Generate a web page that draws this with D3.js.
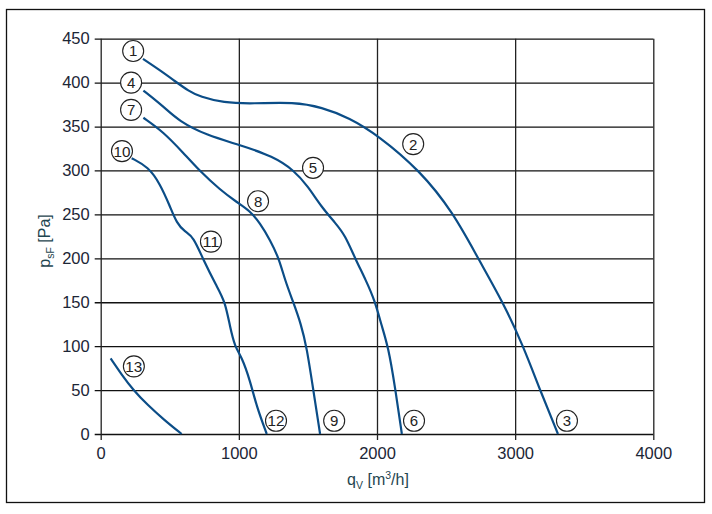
<!DOCTYPE html>
<html>
<head>
<meta charset="utf-8">
<script src="https://cdn.jsdelivr.net/npm/d3@7"></script>
<style>
  body { margin: 0; background: #fff; }
  text { font-family: "Liberation Sans", Arial, sans-serif; }
</style>
</head>
<body>
<svg id="chart" width="712" height="514"></svg>
<script>
// fan curves, q in m3/h, p in Pa
var curve1to3 = [[306,427],[420,415],[526,403],[640,390],[719,384],[887,377],[1100,376],[1400,378],
    [1600,372],[1800,360],[2008,340],[2311,300],[2552,252],[2731,200],[2912,150],[3059,100],[3180,50],[3310,0]];
var curve4to6 = [[309,391],[453,373],[567,356],[767,340],[1008,329],[1249,316],[1400,300],[1500,282],
    [1600,258],[1700,240],[1770,226],[1841,200],[1920,175],[1986,151],[2030,125],[2082,99],[2130,54],[2180,0]];
var curve7to9 = [[309,360],[453,344],[598,320],[719,299],[864,278],[984,264],[1081,254],[1153,240],
    [1226,221],[1290,200],[1334,175],[1394,150],[1450,125],[1491,99],[1539,50],[1588,0]];
var curve10to12 = [[224,314],[345,304],[429,285],[502,259],[550,240],[610,230],[670,225],[743,198],
    [840,168],[900,151],[936,122],[972,99],[1020,88],[1081,61],[1129,31],[1202,0]];
var curve13 = [[72,86],[150,68],[236,50],[340,33],[460,16],[586,0]];

var labelIds = ["1","2","3","4","5","6","7","8","9","10","11","12","13"];
var labelQ = [235,2262,3375,220,1537,2268,220,1139,1690,154,798,1269,240];
var labelP = [436,330,15,400,303,15,369,265,15,322,219,15,77];

var xTicks = [0, 1000, 2000, 3000, 4000];
var yTicks = [0, 50, 100, 150, 200, 250, 300, 350, 400, 450];

var svg = d3.select("#chart");

// outer frame
svg.append("rect")
    .attr("x", 6.5).attr("y", 9.5)
    .attr("width", 698).attr("height", 493)
    .attr("fill", "none").attr("stroke", "#111").attr("stroke-width", 1.3);

var x = d3.scaleLinear().domain([0, 4000]).range([100.7, 653.3]);
var y = d3.scaleLinear().domain([0, 450]).range([434, 38.7]);

var width = x(4000) - x(0);
var height = y(0) - y(450);

var tickColor = "#1c2636";
var titleColor = "#1f4650";

var gy = svg.append("g")
    .attr("transform", "translate(" + x(0) + ",0)")
    .call(d3.axisLeft(y).tickValues(yTicks).tickFormat(d3.format("d")).tickSize(-width).tickPadding(11));
gy.select(".domain").remove();
gy.selectAll(".tick line").attr("x1", -6).attr("stroke", "#111").attr("stroke-width", 1.3);
gy.selectAll(".tick text").attr("font-size", 16.5).attr("fill", tickColor)
    .attr("font-family", "Liberation Sans, Arial, sans-serif");

var gx = svg.append("g")
    .attr("transform", "translate(0," + y(0) + ")")
    .call(d3.axisBottom(x).tickValues(xTicks).tickFormat(d3.format("d")).tickSize(-height).tickPadding(13));
gx.select(".domain").remove();
gx.selectAll(".tick line").attr("y1", 6).attr("stroke", "#222").attr("stroke-width", 1.3);
gx.selectAll(".tick text").attr("font-size", 16.5).attr("fill", tickColor)
    .attr("font-family", "Liberation Sans, Arial, sans-serif");

// axis titles
var yt = svg.append("text")
    .attr("transform", "translate(50,241) rotate(-90)")
    .attr("text-anchor", "middle")
    .attr("font-size", 16).attr("fill", titleColor);
yt.append("tspan").text("p");
yt.append("tspan").attr("font-size", 10.5).attr("dy", 4).text("sF");
yt.append("tspan").attr("dy", -4).text(" [Pa]");

var xt = svg.append("text")
    .attr("x", 378).attr("y", 485)
    .attr("text-anchor", "middle")
    .attr("font-size", 16).attr("fill", titleColor);
xt.append("tspan").text("q");
xt.append("tspan").attr("font-size", 10.5).attr("dy", 4).text("V");
xt.append("tspan").attr("dy", -4).text(" [m");
xt.append("tspan").attr("font-size", 10.5).attr("dy", -6).text("3");
xt.append("tspan").attr("dy", 6).text("/h]");

// curves
var line = d3.line()
    .x(function(d) { return x(d[0]); })
    .y(function(d) { return y(d[1]); })
    .curve(d3.curveBasis);

svg.selectAll(".curve")
    .data([curve1to3, curve4to6, curve7to9, curve10to12, curve13])
    .enter().append("path")
    .attr("class", "curve")
    .attr("d", line)
    .attr("fill", "none")
    .attr("stroke", "#0b4d87")
    .attr("stroke-width", 2.2)
    .attr("stroke-linejoin", "round");

// numbered circle labels
var lab = svg.selectAll(".lab")
    .data(labelIds)
    .enter().append("g")
    .attr("class", "lab")
    .attr("transform", function(d, i) { return "translate(" + x(labelQ[i]) + "," + y(labelP[i]) + ")"; });

lab.append("circle")
    .attr("r", 10.5)
    .attr("fill", "#fff")
    .attr("stroke", "#222")
    .attr("stroke-width", 1.1);

lab.append("text")
    .attr("text-anchor", "middle")
    .attr("dy", "0.36em")
    .attr("font-size", 15)
    .attr("fill", "#222")
    .attr("textLength", function(d) { return d.length > 1 ? 17 : null; })
    .attr("lengthAdjust", "spacingAndGlyphs")
    .text(function(d) { return d; });
</script>
</body>
</html>
